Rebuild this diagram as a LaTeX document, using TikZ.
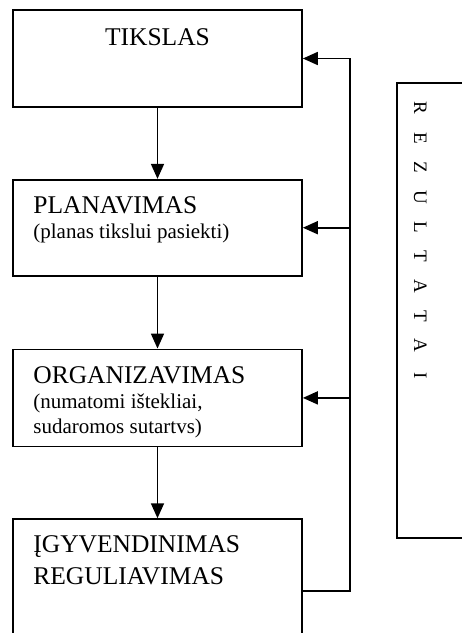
\documentclass[tikz,border=0pt]{standalone}
\usepackage{fontspec}
\setmainfont{Liberation Serif}
\usetikzlibrary{arrows.meta,positioning,calc}

\begin{document}
\begin{tikzpicture}[x=1pt, y=1pt, >={Triangle[length=15pt,width=13pt]}, node distance=71pt,
  stage/.style={draw, line width=1.7pt, minimum width=289pt, inner sep=0pt},
  bigtxt/.style={font=\fontsize{25.5pt}{32pt}\selectfont, inner sep=0pt, anchor=base west},
  smalltxt/.style={font=\fontsize{21pt}{25pt}\selectfont, inner sep=0pt, anchor=base west},
  rezletter/.style={font=\fontsize{19pt}{23pt}\selectfont, rotate=-90, anchor=base, inner sep=0pt},
  flow/.style={->, line width=1.7pt}]
\path[use as bounding box, clip] (0,0) rectangle (462,-633);

\node[stage, minimum height=97pt] (tikslas) at (157.5,-58.5) {};
\node[stage, minimum height=96pt, below=of tikslas] (plan) {};
\node[stage, minimum height=97pt, below=72pt of plan] (org) {};
\node[stage, minimum height=144pt, below=of org] (igyv) {};

% texts in the boxes
\node[bigtxt, anchor=base] (tikslas-t) at ($(tikslas.north)+(0,-36)$) {TIKSLAS};
\node[bigtxt] (plan-t) at ($(plan.north west)+(21,-35)$) {PLANAVIMAS};
\node[smalltxt, below=25pt of plan-t.base west, anchor=base west] (plan-s) {(planas tikslui pasiekti)};
\node[bigtxt] (org-t) at ($(org.north west)+(21,-35)$) {ORGANIZAVIMAS};
\node[smalltxt, below=25pt of org-t.base west, anchor=base west] (org-s1) {(numatomi ištekliai,};
\node[smalltxt, below=25pt of org-s1.base west, anchor=base west] (org-s2) {sudaromos sutartvs)};
\node[bigtxt] (igyv-t1) at ($(igyv.north west)+(21,-34)$) {ĮGYVENDINIMAS};
\node[bigtxt, below=32pt of igyv-t1.base west, anchor=base west] (igyv-t2) {REGULIAVIMAS};

\draw[flow] (tikslas) -- (plan);
\draw[flow] (plan) -- (org);
\draw[flow] (org) -- (igyv);

% feedback
\coordinate[right=47pt of igyv.east] (fb);
\draw[flow] (igyv.east) -- (fb) |- (tikslas.east);
\draw[flow] (fb |- plan.east) -- (plan.east);
\draw[flow] (fb |- org.east) -- (org.east);

\node[draw, line width=1.7pt, minimum width=130pt, minimum height=455pt, inner sep=0pt] (rez) at (462,-310.5) {};
\foreach \ch [count=\i from 0] in {R,E,Z,U,L,T,A,T,A,I}
  \node[rezletter] (rez-\i) at ($(rez.north west)+(18,-26-29.7*\i)$) {\ch};
\end{tikzpicture}
\end{document}
